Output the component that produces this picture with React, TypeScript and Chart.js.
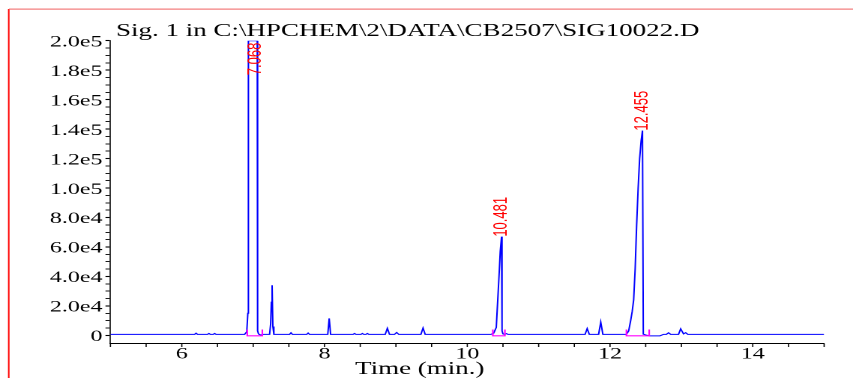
import React, { useEffect, useRef } from "react";
import { Chart, registerables } from "chart.js";

Chart.register(...registerables);

const TITLE = "Sig. 1 in C:\\HPCHEM\\2\\DATA\\CB2507\\SIG10022.D";
const X_TITLE = "Time (min.)";

// retention time (min)
const times = [
  5.0, 6.18, 6.2, 6.22, 6.36, 6.38, 6.4, 6.44, 6.46, 6.48,
  6.88, 6.91, 6.925, 6.933, 7.057, 7.062, 7.075, 7.095, 7.11, 7.13,
  7.23, 7.245, 7.255, 7.262, 7.268, 7.276, 7.29,
  7.51, 7.53, 7.55, 7.75, 7.77, 7.79,
  8.045, 8.065, 8.085,
  8.4, 8.42, 8.44, 8.51, 8.53, 8.55, 8.58, 8.6, 8.62,
  8.85, 8.88, 8.91, 8.98, 9.01, 9.04, 9.35, 9.38, 9.41,
  10.33, 10.37, 10.406, 10.44, 10.462, 10.48, 10.487, 10.5, 10.52,
  10.53, 10.55, 10.57,
  11.65, 11.68, 11.71, 11.84, 11.87, 11.9,
  12.229, 12.261, 12.289, 12.31, 12.331, 12.352, 12.373, 12.394, 12.415, 12.436, 12.455,
  12.466, 12.5, 12.55, 12.7, 12.75,
  12.79, 12.82, 12.85, 12.96, 12.99, 13.03, 13.06, 13.09,
  15.0,
];

// detector signal (counts)
const signal = [
  700, 700, 1500, 700, 700, 1300, 700, 700, 1300, 700,
  700, 2500, 15000, 200000, 200000, 3000, 1000, 500, 200, 700,
  700, 8000, 22600, 24000, 34000, 6000, 700,
  700, 1800, 700, 700, 1600, 700,
  700, 11500, 700,
  700, 1300, 700, 700, 1300, 700, 700, 1300, 700,
  700, 4800, 700, 700, 2000, 700, 700, 5000, 700,
  700, 1500, 5400, 36000, 57000, 67000, 3000, 1000, 700,
  700, 1200, 700,
  700, 4600, 700, 700, 9000, 700,
  700, 3000, 10000, 16000, 24000, 45000, 75000, 100000, 120000, 132000, 139000,
  800, 300, -300, -300, 700,
  700, 1800, 700, 700, 4500, 1000, 1800, 700,
  700,
];

// labelled peaks
const peakTimes = [7.068, 10.481, 12.455];

// integration baselines (start, end, baseline level, tick top)
const intStart = [6.917, 10.358, 12.23];
const intEnd = [7.128, 10.527, 12.549];
const intBase = [-300, -300, -300];
const intTickTop = [4000, 4000, 4000];

// axes
const xTickStep = 0.5;
const xLabelled = [6, 8, 10, 12, 14];
const yMajorStep = 20000;
const yMinorStep = 5000;
const yMin = -5500;
const yMax = 200000;

// horizontal stretch of the original picture
const CSS_W = 853;
const CSS_H = 378;
const STRETCH = 1.5;
const LW = Math.round(CSS_W / STRETCH);
const Y_TICK_LEN = 5 / STRETCH;

export default function App() {
  const ref = useRef<HTMLCanvasElement | null>(null);

  useEffect(() => {
    const canvas = ref.current;
    if (!canvas) return;

    const trace = times.map((t, i) => ({ x: t, y: signal[i] }));
    const baselines: { x: number; y: number | null }[] = [];
    intStart.forEach((s, i) => {
      baselines.push({ x: s, y: intTickTop[i] });
      baselines.push({ x: s, y: intBase[i] });
      baselines.push({ x: intEnd[i], y: intBase[i] });
      baselines.push({ x: intEnd[i], y: intTickTop[i] });
      baselines.push({ x: intEnd[i], y: null });
    });
    const yTicks: { value: number }[] = [];
    for (let v = 0; v <= yMax; v += yMinorStep) yTicks.push({ value: v });

    const decor = {
      id: "decor",
      afterDraw(chart: any) {
        const ctx = chart.ctx as CanvasRenderingContext2D;
        const xs = chart.scales.x;
        const ys = chart.scales.y;
        const area = chart.chartArea;
        ctx.save();
        // frame
        ctx.fillStyle = "#ff0000";
        ctx.fillRect(8 / STRETCH, 9, 1.5 / STRETCH, CSS_H);
        ctx.fillStyle = "#f06060";
        ctx.fillRect(9 / STRETCH, 8.6, LW, 1);

        // x tick marks
        ctx.fillStyle = "#000";
        xs.ticks.forEach((tk: any) => {
          const x = xs.getPixelForValue(tk.value);
          ctx.fillRect(x - 0.4, area.bottom, 0.8, 3.5);
        });

        // titles
        ctx.font = '18px "Liberation Serif"';
        ctx.textAlign = "left";
        ctx.textBaseline = "alphabetic";
        ctx.fillText(TITLE, 116 / STRETCH, 36);
        ctx.textAlign = "center";
        ctx.fillText(X_TITLE, 420 / STRETCH, 374);

        // peak labels (rotated, reading upward)
        ctx.fillStyle = "#ff0000";
        ctx.font = '13px "Liberation Sans"';
        ctx.textBaseline = "middle";
        peakTimes.forEach((pt) => {
          let apex = -Infinity;
          times.forEach((t, i) => {
            if (Math.abs(t - pt) <= 0.02) apex = Math.max(apex, signal[i]);
          });
          const x = xs.getPixelForValue(pt);
          const label = pt.toFixed(3);
          ctx.save();
          if (apex >= ys.max) {
            ctx.translate(x - 1.5, area.top + 2);
            ctx.rotate(-Math.PI / 2);
            ctx.textAlign = "right";
          } else {
            ctx.translate(x, ys.getPixelForValue(apex));
            ctx.rotate(-Math.PI / 2);
            ctx.textAlign = "left";
          }
          ctx.fillText(label, 0, 0);
          ctx.restore();
        });
        ctx.restore();
      },
    };

    const chart = new Chart(canvas, {
      type: "line",
      data: {
        datasets: [
          {
            data: baselines,
            borderColor: "#ff00ff",
            borderWidth: 1.1,
            pointRadius: 0,
            tension: 0,
            spanGaps: false,
          },
          {
            data: trace,
            borderColor: "#0000ff",
            borderWidth: 1.0,
            pointRadius: 0,
            tension: 0,
          },
        ],
      },
      options: {
        animation: false,
        responsive: false,
        devicePixelRatio: 2,
        layout: { padding: { left: 0, right: LW - 824.6 / STRETCH, top: 40.7, bottom: 0 } },
        plugins: { legend: { display: false }, tooltip: { enabled: false }, title: { display: false } },
        scales: {
          x: {
            type: "linear",
            min: 5,
            max: 15,
            grid: { display: false, drawTicks: false },
            border: { display: true, color: "#000", width: 1 },
            ticks: {
              stepSize: xTickStep,
              autoSkip: false,
              maxTicksLimit: 200,
              maxRotation: 0,
              padding: 1,
              color: "#000",
              font: { family: '"Liberation Serif"', size: 16 },
              callback: (v: any) => (xLabelled.includes(Number(v)) ? String(v) : ""),
            },
            afterFit: (s: any) => {
              s.height = CSS_H - 343.5;
            },
          },
          y: {
            min: yMin,
            max: yMax,
            grid: {
              display: true,
              drawOnChartArea: false,
              drawTicks: true,
              tickLength: Y_TICK_LEN,
              tickWidth: (c: any) => (c.tick && c.tick.value % yMajorStep === 0 ? 1.1 : 0.9),
              tickColor: "#000",
              color: "#000",
              lineWidth: 1,
            },
            border: { display: true, color: "#000", width: 0.8 },
            afterBuildTicks: (s: any) => {
              s.ticks = yTicks.map((t) => ({ value: t.value }));
            },
            ticks: {
              autoSkip: false,
              maxTicksLimit: 200,
              padding: 2,
              labelOffset: 1.5,
              color: "#000",
              font: { family: '"Liberation Serif"', size: 16, lineHeight: 0.25 },
              callback: (v: any) => {
                const n = Number(v);
                if (n % yMajorStep !== 0) return "";
                if (n === 0) return "0";
                return n.toExponential(1).replace("e+", "e");
              },
            },
            afterFit: (s: any) => {
              s.width = 110.5 / STRETCH;
            },
          },
        },
      },
      plugins: [decor],
    });
    return () => chart.destroy();
  }, []);

  return (
    <canvas
      ref={ref}
      width={LW}
      height={CSS_H}
      style={{ position: "fixed", left: 0, top: 0, width: CSS_W + "px", height: CSS_H + "px" }}
    />
  );
}
